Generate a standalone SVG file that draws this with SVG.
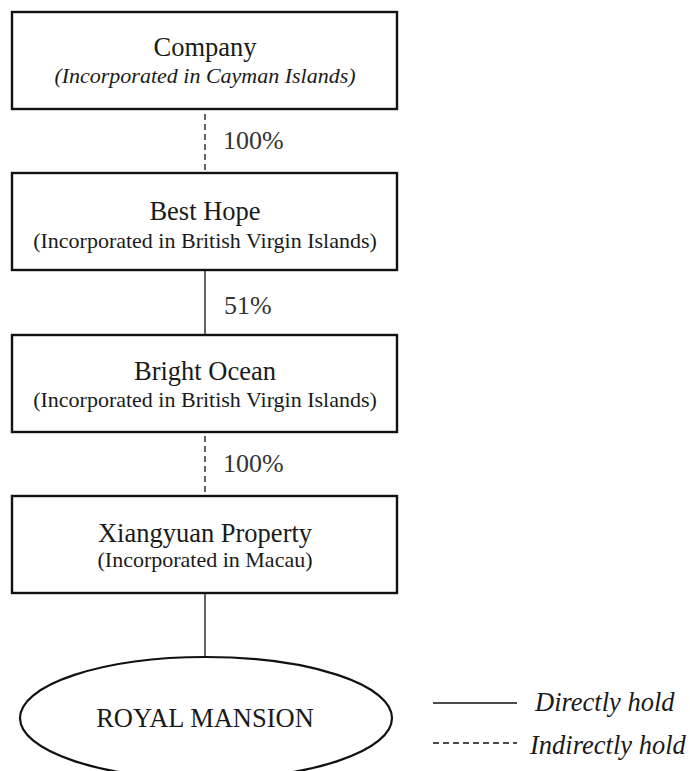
<svg xmlns="http://www.w3.org/2000/svg" width="690" height="771" viewBox="0 0 690 771">
<style>
.box{fill:#fff;stroke:#111;stroke-width:2.4}
.t{font-family:"Liberation Serif","Times New Roman",serif;fill:#1a1a1a;text-anchor:middle}
.ti{font-size:26.5px}
.sub{font-size:22px}
.it{font-style:italic}
.big{font-size:26.5px}
.pct{font-family:"Liberation Serif","Times New Roman",serif;font-size:26px;fill:#333}
.solid{stroke:#111;stroke-width:1.3;fill:none}
.dash{stroke:#111;stroke-width:1.3;fill:none;stroke-dasharray:6 4}
.leg{font-family:"Liberation Serif","Times New Roman",serif;font-size:26.5px;font-style:italic;fill:#1a1a1a}
</style>
<rect width="690" height="771" fill="#fff"/>
<g id="connectors">
<line class="dash" x1="205" y1="114" x2="205" y2="173"/>
<line class="solid" x1="205" y1="270" x2="205" y2="335"/>
<line class="dash" x1="205" y1="436" x2="205" y2="496"/>
<line class="solid" x1="205" y1="593" x2="205" y2="657"/>
<text class="pct" x="223" y="149">100%</text>
<text class="pct" x="224" y="314">51%</text>
<text class="pct" x="223" y="472">100%</text>
</g>
<g id="company">
<rect class="box" x="12" y="12" width="385" height="97"/>
<text class="t ti" x="205" y="56">Company</text>
<text class="t sub it" x="205" y="83">(Incorporated in Cayman Islands)</text>
</g>
<g id="best-hope">
<rect class="box" x="12" y="173" width="385" height="97"/>
<text class="t ti" x="205" y="220">Best Hope</text>
<text class="t sub" x="205" y="248">(Incorporated in British Virgin Islands)</text>
</g>
<g id="bright-ocean">
<rect class="box" x="12" y="335" width="385" height="97"/>
<text class="t ti" x="205" y="380">Bright Ocean</text>
<text class="t sub" x="205" y="407">(Incorporated in British Virgin Islands)</text>
</g>
<g id="xiangyuan">
<rect class="box" x="12" y="496" width="385" height="97"/>
<text class="t ti" x="205" y="542">Xiangyuan Property</text>
<text class="t sub" x="205" y="567">(Incorporated in Macau)</text>
</g>
<g id="royal-mansion">
<ellipse cx="206" cy="718" rx="186" ry="61" fill="#fff" stroke="#111" stroke-width="2.2"/>
<text class="t big" x="205" y="727">ROYAL MANSION</text>
</g>
<g id="legend">
<line class="solid" x1="433" y1="703" x2="517" y2="703"/>
<text class="leg" x="535" y="711">Directly hold</text>
<line class="dash" x1="433" y1="743" x2="517" y2="743"/>
<text class="leg" x="530" y="754">Indirectly hold</text>
</g>
</svg>
